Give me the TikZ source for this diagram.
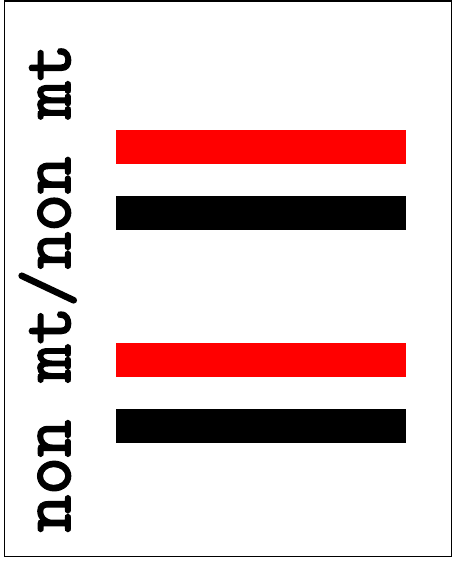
\documentclass[tikz,border=0pt]{standalone}
\usepackage{fontspec}
\newfontfamily\monob[FakeBold=2.5]{Latin Modern Mono}
\begin{document}
\begin{tikzpicture}[x=1pt,y=-1pt,
  bar/.style={draw=none},
  label/.style={font=\monob\fontsize{73}{73}\selectfont, rotate=90, inner sep=0pt, anchor=base}]
\useasboundingbox (0,0) rectangle (454,562);
\draw[line width=1.6pt] (4.5,1) rectangle (451.5,556.5);
\fill[red,bar] (116,130) rectangle (406,163.5) coordinate (r1);
\fill[black,bar] (116,195.5) rectangle (406,229.5) coordinate (b1);
\fill[red,bar] (116,343) rectangle (406,377) coordinate (r2);
\fill[black,bar] (116,409) rectangle (406,443) coordinate (b2);
\node[label] (t) at (70,288) {non mt/non mt};
\end{tikzpicture}
\end{document}
